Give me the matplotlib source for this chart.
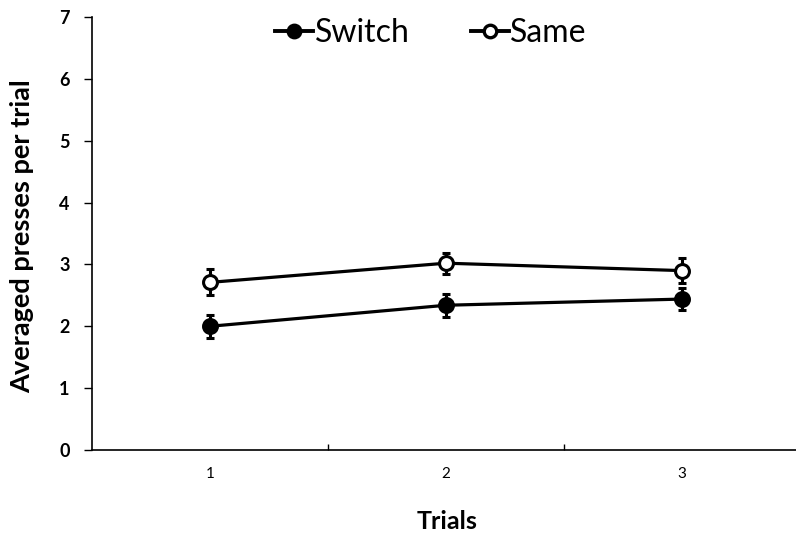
import matplotlib
matplotlib.use("Agg")
import matplotlib.pyplot as plt
from matplotlib.lines import Line2D

trials = [1, 2, 3]
trial_labels = ["1", "2", "3"]
switch_mean = [2.00, 2.34, 2.44]
switch_err = [0.19, 0.19, 0.18]
same_mean = [2.71, 3.02, 2.90]
same_err = [0.21, 0.17, 0.20]
yticks = [0, 1, 2, 3, 4, 5, 6, 7]

plt.rcParams['font.family'] = ['Lato', 'DejaVu Sans']

fig = plt.figure(figsize=(7.96, 5.35), dpi=100)
ax = fig.add_axes([92 / 796, 85 / 535, 708 / 796, 433 / 535])

common = dict(color='black', linewidth=2.3, markersize=10, markeredgewidth=2.2,
              elinewidth=2.2, capsize=3, capthick=2.5, zorder=3)
ax.errorbar(trials, switch_mean, yerr=switch_err, marker='o',
            markerfacecolor='black', markeredgecolor='black', **common)
ax.errorbar(trials, same_mean, yerr=same_err, marker='o',
            markerfacecolor='white', markeredgecolor='black', **common)

ax.set_xlim(0.5, 3.5)
ax.set_ylim(0, 7)
ax.set_yticks(yticks)
ax.set_yticklabels([str(v) for v in yticks], fontsize=13, fontweight='bold')

# category labels centred, tick marks between categories
ax.set_xticks(trials)
ax.set_xticklabels(trial_labels, fontsize=11)
ax.tick_params(axis='x', which='major', length=0, pad=12)
ax.set_xticks([1.5, 2.5], minor=True)
ax.tick_params(axis='x', which='minor', direction='in', length=4, width=1)
ax.tick_params(axis='y', direction='out', length=6, width=1, pad=10)

for side in ['top', 'right']:
    ax.spines[side].set_visible(False)
for side in ['left', 'bottom']:
    ax.spines[side].set_linewidth(1.2)

ax.set_ylabel('Averaged presses per trial', fontsize=19.5, fontweight='bold')
ax.yaxis.set_label_coords(-(92 - 34) / 708, (450 - 236) / 433)
ax.set_xlabel('Trials', fontsize=18, fontweight='bold')
ax.xaxis.set_label_coords((447 - 92) / 708, -(510 - 450) / 433)

handles = [
    Line2D([], [], color='black', linewidth=2.8, marker='o', markersize=9,
           markerfacecolor='black', markeredgecolor='black', markeredgewidth=2.4),
    Line2D([], [], color='black', linewidth=2.8, marker='o', markersize=9,
           markerfacecolor='white', markeredgecolor='black', markeredgewidth=2.4),
]
ax.legend(handles, ['Switch', 'Same'], loc='center',
          bbox_to_anchor=((431 - 92) / 708, 1.0 - (33 - 17) / 433),
          ncol=2, frameon=False, fontsize=23, handlelength=1.2, handletextpad=0.05,
          columnspacing=1.9, borderaxespad=0)

fig.savefig('out.png', dpi=100)
